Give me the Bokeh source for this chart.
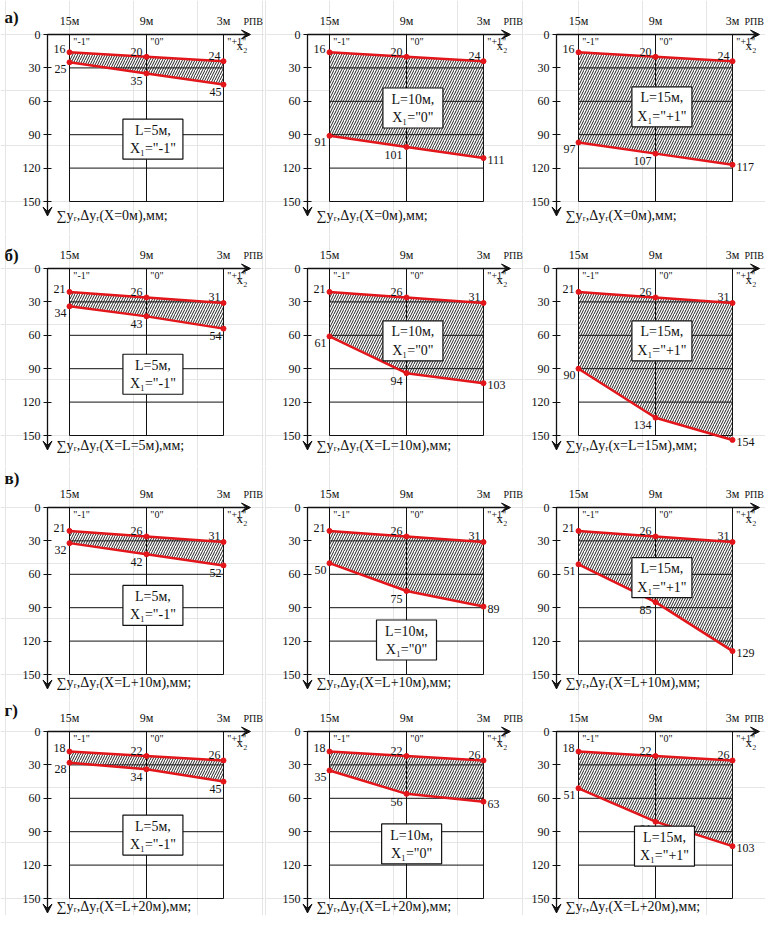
from bokeh.plotting import figure
from bokeh.models import Range1d, FixedTicker, Arrow, VeeHead, LinearAxis
from bokeh.layouts import column, row
from bokeh.embed import file_html
from bokeh.resources import INLINE
from bokeh.core.properties import value

# ---------------- data ----------------
x_pos = [15, 9, 3]
x_tick_labels = ["15м", "9м", "3м"]
zone_labels = ['"-1"', '"0"', '"+1"']
y_ticks = [0, 30, 60, 90, 120, 150]
row_letters = ["а)", "б)", "в)", "г)"]
L_values = ["L=5м,", "L=10м,", "L=15м,"]
X1_values = ['X₁="-1"', 'X₁="0"', 'X₁="+1"']

top_a = [16, 20, 24]
bot_a = [[25, 35, 45], [91, 101, 111], [97, 107, 117]]
top_b = [21, 26, 31]
bot_b = [[34, 43, 54], [61, 94, 103], [90, 134, 154]]
top_v = [21, 26, 31]
bot_v = [[32, 42, 52], [50, 75, 89], [51, 85, 129]]
top_g = [18, 22, 26]
bot_g = [[28, 34, 45], [35, 56, 63], [51, 81, 103]]

tops = [top_a, top_b, top_v, top_g]
bots = [bot_a, bot_b, bot_v, bot_g]

y_titles = [
    ["∑yᵣ,Δyᵣ(X=0м),мм;"] * 3,
    ["∑yᵣ,Δyᵣ(X=L=5м),мм;", "∑yᵣ,Δyᵣ(X=L=10м),мм;", "∑yᵣ,Δyᵣ(x=L=15м),мм;"],
    ["∑yᵣ,Δyᵣ(X=L+10м),мм;"] * 3,
    ["∑yᵣ,Δyᵣ(X=L+20м),мм;"] * 3,
]

# ---------------- layout / style ----------------
FONT = "Liberation Serif"
TXT = "#111111"
RED = "#e3161b"
PXY = 167 / 150.0            # px per mm (vertical)
PXX = 154 / 12.0             # px per m (horizontal)

col_left = [0, 264, 524]
col_w = [264, 260, 241]
box_left = [69, 329, 578]    # pixel x of the 15м line
AXOFF = 22                   # px between vertical axis and 15м line

row_top = [0, 234, 466, 700]
row_h = [234, 232, 234, 215]
y0_px = [34, 268, 507, 731]  # pixel y of the 0 line

letter_px = [17, 255, 478, 710]
ytitle_px = [215, 445, 682, 906]
rpv_px = [243, 503, 744]
box_pos = [
    [(8.5, 94), (8.5, 66), (8.5, 65)],
    [(8.5, 95), (8.5, 65), (8.5, 65)],
    [(8.5, 88), (9.0, 119), (8.5, 63)],
    [(8.5, 93), (8.6, 101), (8.3, 103)],
]


def txt(p, x, y, t, size="12px", align="left", base="middle", style="normal"):
    p.text(x=x, y=y, text=t, text_font=value(FONT), text_font_size=size,
           text_align=align, text_baseline=base, text_color=TXT, text_font_style=style)


def panel(r, c):
    w, h = col_w[c], row_h[r]
    xs0 = 15 + (box_left[c] - col_left[c]) / PXX
    ax = 15 + AXOFF / PXX
    yt = (row_top[r] - y0_px[r]) / PXY
    yb = (row_top[r] + h - y0_px[r]) / PXY
    px2x = lambda px: 15 - (px - box_left[c]) / PXX
    px2y = lambda py: (py - y0_px[r]) / PXY

    p = figure(width=w, height=h, output_backend="svg", toolbar_location=None,
               x_range=Range1d(xs0, xs0 - w / PXX), y_range=Range1d(yb, yt),
               x_axis_location=None, y_axis_location=None, min_border=0)
    p.title.visible = False
    p.outline_line_color = None
    p.background_fill_color = "white"
    p.border_fill_color = "white"

    ya = LinearAxis(ticker=FixedTicker(ticks=y_ticks), fixed_location=ax,
                    axis_line_color=None, major_tick_in=4, major_tick_out=4,
                    minor_tick_line_color=None, major_tick_line_color=TXT,
                    major_tick_line_width=1.2,
                    major_label_text_font=FONT, major_label_text_font_size="12px",
                    major_label_text_color=TXT, major_label_standoff=3)
    p.add_layout(ya, "left")
    xa = LinearAxis(ticker=FixedTicker(ticks=x_pos), fixed_location=0,
                    major_label_overrides={x: l for x, l in zip(x_pos, x_tick_labels)},
                    axis_line_color=None, major_tick_line_color=None,
                    minor_tick_line_color=None,
                    major_label_text_font=FONT, major_label_text_font_size="12px",
                    major_label_text_color=TXT, major_label_standoff=1)
    p.add_layout(xa, "above")

    top = tops[r]
    bot = bots[r][c]

    # hatched zone
    p.varea(x=x_pos, y1=top, y2=bot, fill_color="white", hatch_pattern="/",
            hatch_scale=5, hatch_weight=1.0, hatch_color="#222222")

    # grid of the box
    hy = y_ticks[1:]
    p.segment(x0=[x_pos[0]] * len(hy), y0=hy, x1=[x_pos[-1]] * len(hy), y1=hy,
              line_color="#111111", line_width=1)
    p.segment(x0=x_pos, y0=[y_ticks[0]] * 3, x1=x_pos, y1=[y_ticks[-1]] * 3,
              line_color="#111111", line_width=1)

    # axis arrows
    p.add_layout(Arrow(end=VeeHead(size=9, fill_color=TXT, line_color=TXT, line_width=1),
                       x_start=ax, y_start=0, x_end=px2x(box_left[c] + 154 + 27), y_end=0,
                       line_color=TXT, line_width=1.3))
    p.add_layout(Arrow(end=VeeHead(size=9, fill_color=TXT, line_color=TXT, line_width=1),
                       x_start=ax, y_start=0, x_end=ax, y_end=163,
                       line_color=TXT, line_width=1.3))

    # red lines
    for ys in (top, bot):
        p.line(x_pos, ys, line_color=RED, line_width=2.5)
        p.scatter(x_pos, ys, size=5, color=RED)

    # zone labels
    txt(p, [xx - 0.3 for xx in x_pos], [6.5, 6.5, 6.5], zone_labels, size="10px")
    txt(p, [x_pos[-1] - 13 / PXX], [10], ["x₂"], size="13px")

    # value labels
    s = [str(v) for v in top]
    txt(p, [x_pos[0] + 4 / PXX], [top[0] - 3], [s[0]], align="right")
    txt(p, [x_pos[1] + 4 / PXX], [top[1] - 4.5], [s[1]], align="right")
    txt(p, [x_pos[2] + 3 / PXX], [top[2] - 5], [s[2]], align="right")
    b = [str(v) for v in bot]
    txt(p, [x_pos[0] + 3 / PXX], [bot[0] + 6], [b[0]], align="right")
    txt(p, [x_pos[1] + 4 / PXX], [bot[1] + 7], [b[1]], align="right")
    if c == 0:
        txt(p, [x_pos[2] + 2 / PXX], [bot[2] + 7], [b[2]], align="right")
    else:
        txt(p, [x_pos[2] - 4 / PXX], [bot[2] + 2], [b[2]], align="left")

    # info box
    bx, by = box_pos[r][c]
    p.rect(x=[bx], y=[by], width=60, height=40, width_units="screen", height_units="screen",
           fill_color="white", line_color=TXT, line_width=1.2)
    txt(p, [bx], [by - 8], [L_values[c]], size="14px", align="center")
    txt(p, [bx], [by + 8.5], [X1_values[c]], size="14px", align="center")

    # y title
    txt(p, [ax - 9 / PXX], [px2y(ytitle_px[r])], [y_titles[r][c]], size="14px")

    # РПВ and row letter
    txt(p, [px2x(rpv_px[c])], [px2y(y0_px[r] - 13)], ["РПВ"], size="10px")
    if c == 0:
        txt(p, [px2x(4)], [px2y(letter_px[r])], [row_letters[r]], size="17px", style="bold")
    return p


rows = []
for r in range(4):
    rows.append(row(*[panel(r, c) for c in range(3)], spacing=0))
layout = column(*rows, spacing=0)

open("out.html", "w").write(file_html(layout, INLINE))
